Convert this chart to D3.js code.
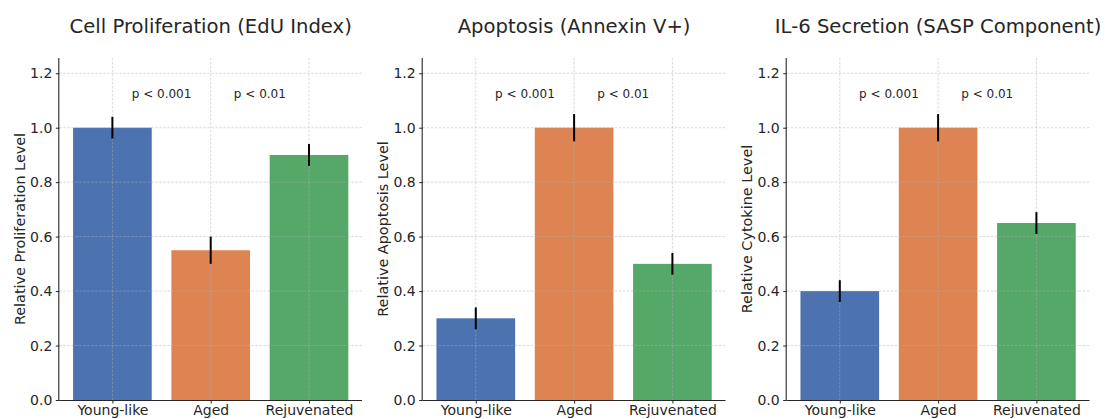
<!DOCTYPE html>
<html>
<head>
<meta charset="utf-8">
<script src="https://cdn.jsdelivr.net/npm/d3@7"></script>
<style>
  html, body { margin: 0; padding: 0; background: #fff; }
  svg { display: block; font-family: "DejaVu Sans", sans-serif; }
</style>
</head>
<body>
<svg id="chart" width="1105" height="419"></svg>
<script>
// ---- data ----
const categories = ["Young-like", "Aged", "Rejuvenated"];
const colors = ["#4c72b0", "#dd8452", "#55a868"];
const titles = ["Cell Proliferation (EdU Index)", "Apoptosis (Annexin V+)", "IL-6 Secretion (SASP Component)"];
const yLabels = ["Relative Proliferation Level", "Relative Apoptosis Level", "Relative Cytokine Level"];
const proliferationValues = [1.00, 0.55, 0.90];
const proliferationErrors = [0.04, 0.05, 0.04];
const apoptosisValues = [0.30, 1.00, 0.50];
const apoptosisErrors = [0.04, 0.05, 0.04];
const cytokineValues = [0.40, 1.00, 0.65];
const cytokineErrors = [0.04, 0.05, 0.04];
const pLabels = ["p < 0.001", "p < 0.01"];
const pLabelY = 1.1;
const yTicks = [0.0, 0.2, 0.4, 0.6, 0.8, 1.0, 1.2];

const panels = [
  { values: proliferationValues, errors: proliferationErrors },
  { values: apoptosisValues, errors: apoptosisErrors },
  { values: cytokineValues, errors: cytokineErrors }
];

// ---- layout ----
const axLefts = [59.3, 422.7, 786.7];
const axWidth = 302.8;
const axTop = 58, axBottom = 400;

const svg = d3.select("#chart");

panels.forEach((p, i) => {
  const x0 = axLefts[i];
  const x = d3.scaleLinear().domain([-0.54, 2.54]).range([x0, x0 + axWidth]);
  const y = d3.scaleLinear().domain([0, 1.256]).range([axBottom, axTop]);
  const g = svg.append("g");
  const barW = 0.8;

  // bars
  g.selectAll("rect.bar").data(p.values).enter().append("rect")
    .attr("x", (d, k) => x(k - barW / 2))
    .attr("width", (d, k) => x(k + barW / 2) - x(k - barW / 2))
    .attr("y", d => y(d))
    .attr("height", d => y(0) - y(d))
    .attr("fill", (d, k) => colors[k]);

  // grid (drawn above bars, like matplotlib's default axisbelow='line')
  const grid = g.append("g").attr("stroke", "#b0b0b0").attr("stroke-opacity", 0.6)
    .attr("stroke-width", 0.8).attr("stroke-dasharray", "2.5,1.5");
  grid.selectAll("line.h").data(yTicks.slice(1)).enter().append("line")
    .attr("x1", x0).attr("x2", x0 + axWidth)
    .attr("y1", d => y(d)).attr("y2", d => y(d));
  grid.selectAll("line.v").data(categories).enter().append("line")
    .attr("x1", (d, k) => x(k)).attr("x2", (d, k) => x(k))
    .attr("y1", axTop).attr("y2", axBottom);

  // error bars
  g.selectAll("line.err").data(p.values).enter().append("line")
    .attr("x1", (d, k) => x(k)).attr("x2", (d, k) => x(k))
    .attr("y1", (d, k) => y(d - p.errors[k]))
    .attr("y2", (d, k) => y(d + p.errors[k]))
    .attr("stroke", "#000").attr("stroke-width", 2);

  // axes
  const yAxis = d3.axisLeft(y).tickValues(yTicks).tickFormat(d3.format(".1f")).tickSize(3.5).tickPadding(3.5);
  const gy = g.append("g").attr("transform", `translate(${x0},0)`).call(yAxis);
  const xAxis = d3.axisBottom(x).tickValues([0, 1, 2]).tickFormat(k => categories[k]).tickSize(3.5).tickPadding(1.5);
  const gx = g.append("g").attr("transform", `translate(0,${axBottom})`).call(xAxis);
  [gx, gy].forEach(a => {
    a.select(".domain").attr("stroke", "#262626").attr("stroke-width", 1.1);
    a.selectAll(".tick line").attr("stroke", "#262626");
    a.selectAll(".tick text").attr("fill", "#262626").style("font-size", "14px").style("font-family", "DejaVu Sans");
  });
  gx.select(".domain").attr("d", `M${x0},0.5H${x0 + axWidth}`);
  gy.select(".domain").attr("d", `M-0.5,${axTop}V${axBottom}`);

  // p labels
  g.selectAll("text.p").data(pLabels).enter().append("text")
    .attr("x", (d, k) => x(k + 0.5))
    .attr("y", y(pLabelY) - 2)
    .attr("text-anchor", "middle")
    .attr("fill", "#262626")
    .style("font-size", "12px")
    .text(d => d);

  // title
  g.append("text")
    .attr("x", x0 + axWidth / 2).attr("y", 33)
    .attr("text-anchor", "middle").attr("fill", "#262626")
    .style("font-size", "19.6px")
    .text(titles[i]);

  // y label
  g.append("text")
    .attr("transform", `translate(${x0 - 34.5},${(axTop + axBottom) / 2}) rotate(-90)`)
    .attr("text-anchor", "middle").attr("fill", "#262626")
    .style("font-size", "14.4px")
    .text(yLabels[i]);
});
</script>
</body>
</html>
